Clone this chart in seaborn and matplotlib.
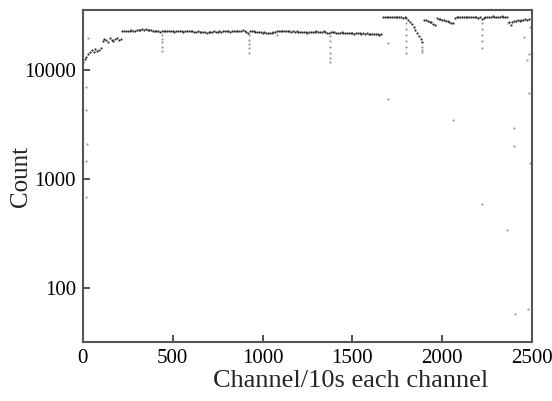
import numpy as np
import pandas as pd
import seaborn as sns
import matplotlib
matplotlib.use("Agg")
import matplotlib.pyplot as plt

start_counts = [12000, 12600, 13200, 14000, 14600, 15200, 14700, 15600, 15000, 15500, 16000]
step_counts = [18600, 19300, 18800, 18200, 19600, 19000, 18500, 19400, 19900, 18800, 19200]
plateau1_counts = [
    22800, 23000, 22700, 23100, 22900, 23200, 23000, 22800, 23300, 23500,
    23600, 23800, 23500, 23700, 23400, 23200, 23300, 23000, 23100, 22900,
    22800, 22600, 23000, 22900, 23100, 22800, 22700, 23000, 22900, 22600,
    22800, 23000, 22700, 22900, 22600, 22800, 23100, 22900, 22700, 22800,
    22600, 22500, 22700, 22400, 22600, 22300, 22500, 22200, 22400, 22300,
    22500, 22700, 22400, 22600, 22800, 22500, 22700, 22900, 23000, 22800,
    22600, 22900, 23100, 22800, 23000, 22700, 22900, 23200, 22800, 22600,
    22100, 22800, 23000, 22700, 22500, 22600, 22300, 22400, 22100, 22300,
    22000, 22200, 21900, 22100, 22400, 22600, 23000, 22800, 22900, 23100,
    22800, 23000, 22700, 22900, 22600, 22800, 22500, 22700, 22600, 22400,
    22600, 22300, 22500, 22200, 22400, 22600, 22300, 22500, 22700, 22400,
    22600, 22500, 22800, 22300, 22200, 22000, 22600, 22400, 22300, 22100,
    22200, 22000, 22300, 21900, 22100, 21800, 22000, 22200, 21900, 21700,
    21900, 21800, 22000, 21700, 21900, 21600, 21800, 21500, 21700, 21400,
    21600, 21300, 21500, 21200, 21400,
]
plateau2_counts = [30800, 31000, 30600, 30900, 31100, 30700, 30500,
                   30800, 30600, 30900, 30700, 30400, 30600, 30300]
drop_counts = [29000, 28000, 26500, 25000, 23500, 22000, 20500, 19500, 18300]
seg3_counts = [29200, 28800, 28600, 28000, 27600, 26800, 26200]
seg4_counts = [30000, 29600, 29800, 29200, 29000, 28600, 28300, 27800, 27400, 27000]
seg5_counts = [30400, 30600, 30800, 30500, 30700, 30900, 30600, 30800,
               30700, 30500, 30900, 30600, 30800, 30400, 30600, 29800]
seg6_counts = [30200, 31000, 30800, 31100, 30900, 31200, 31000,
               30800, 31100, 30900, 31300, 31000, 30800, 31100]
seg7_counts = [27500, 26000]
seg8_counts = [28000, 28600, 28300, 28900, 28500, 29100, 28800, 29300, 29000, 29400]

trace_counts = (start_counts + step_counts + plateau1_counts + plateau2_counts
                + drop_counts + seg3_counts + seg4_counts + seg5_counts
                + seg6_counts + seg7_counts + seg8_counts)
trace_channels = np.arange(len(trace_counts)) * 10

# Einbrüche und einzelne Ausreißer
dip_channels = [440, 440, 440, 440, 440, 924, 924, 924, 924, 924, 1080,
                1375, 1375, 1375, 1375, 1375, 1375, 1700, 1700,
                1800, 1800, 1800, 1800, 1800, 1800, 1887, 1887, 1887,
                2060, 2222, 2222, 2222, 2222, 2222, 2222, 2366]
dip_counts = [21000, 19500, 18000, 16500, 15000, 21000, 19000, 17500, 16000, 14500, 21000,
              20500, 18500, 16500, 14500, 13000, 12000, 17700, 5500,
              27000, 24000, 21000, 18500, 16500, 14500, 16500, 15500, 14800,
              3500, 27000, 24000, 21000, 18500, 16000, 590, 27000]
outlier_channels = [28, 20, 18, 22, 18, 16, 2400, 2400, 2360, 2405, 2478,
                    2489, 2480, 2480, 2470, 2455, 2490]
outlier_counts = [19800, 6970, 4280, 2120, 1480, 680, 2980, 2030, 340, 58, 64,
                  1420, 6150, 14000, 12500, 20000, 25000]

trace = pd.DataFrame({"channel": trace_channels, "count": trace_counts})
sparse = pd.DataFrame({
    "channel": dip_channels + outlier_channels,
    "count": dip_counts + outlier_counts,
})

sns.set_theme(style="ticks")
plt.rcParams["font.family"] = ["Liberation Serif", "DejaVu Serif"]

fig = plt.figure(figsize=(5.52, 4.01), dpi=100)
ax = fig.add_axes([0.150, 0.147, 0.814, 0.828])
sns.scatterplot(data=sparse, x="channel", y="count", ax=ax, s=2.5, color="#9a9a9a",
                linewidth=0, legend=False)
sns.scatterplot(data=trace, x="channel", y="count", ax=ax, s=2.5, color="#303030",
                linewidth=0, legend=False)

ax.set_yscale("log")
ax.set_xlim(0, 2500)
ax.set_ylim(32, 35700)
ax.set_xticks([0, 500, 1000, 1500, 2000, 2500])
ax.set_yticks([100, 1000, 10000])
ax.set_yticklabels(["100", "1000", "10000"])
ax.minorticks_off()
ax.tick_params(direction="in", length=5, width=1.2, labelsize=15, colors="#333333",
               labelcolor="black", pad=5)
for sp in ax.spines.values():
    sp.set_color("#555555")
    sp.set_linewidth(1.5)

ax.set_xlabel("Channel/10s each channel", fontsize=19)
ax.xaxis.set_label_coords(0.596, -0.085)
ax.set_ylabel("Count", fontsize=18)
ax.yaxis.set_label_coords(-0.113, 0.5)

fig.savefig("out.png", dpi=100)
